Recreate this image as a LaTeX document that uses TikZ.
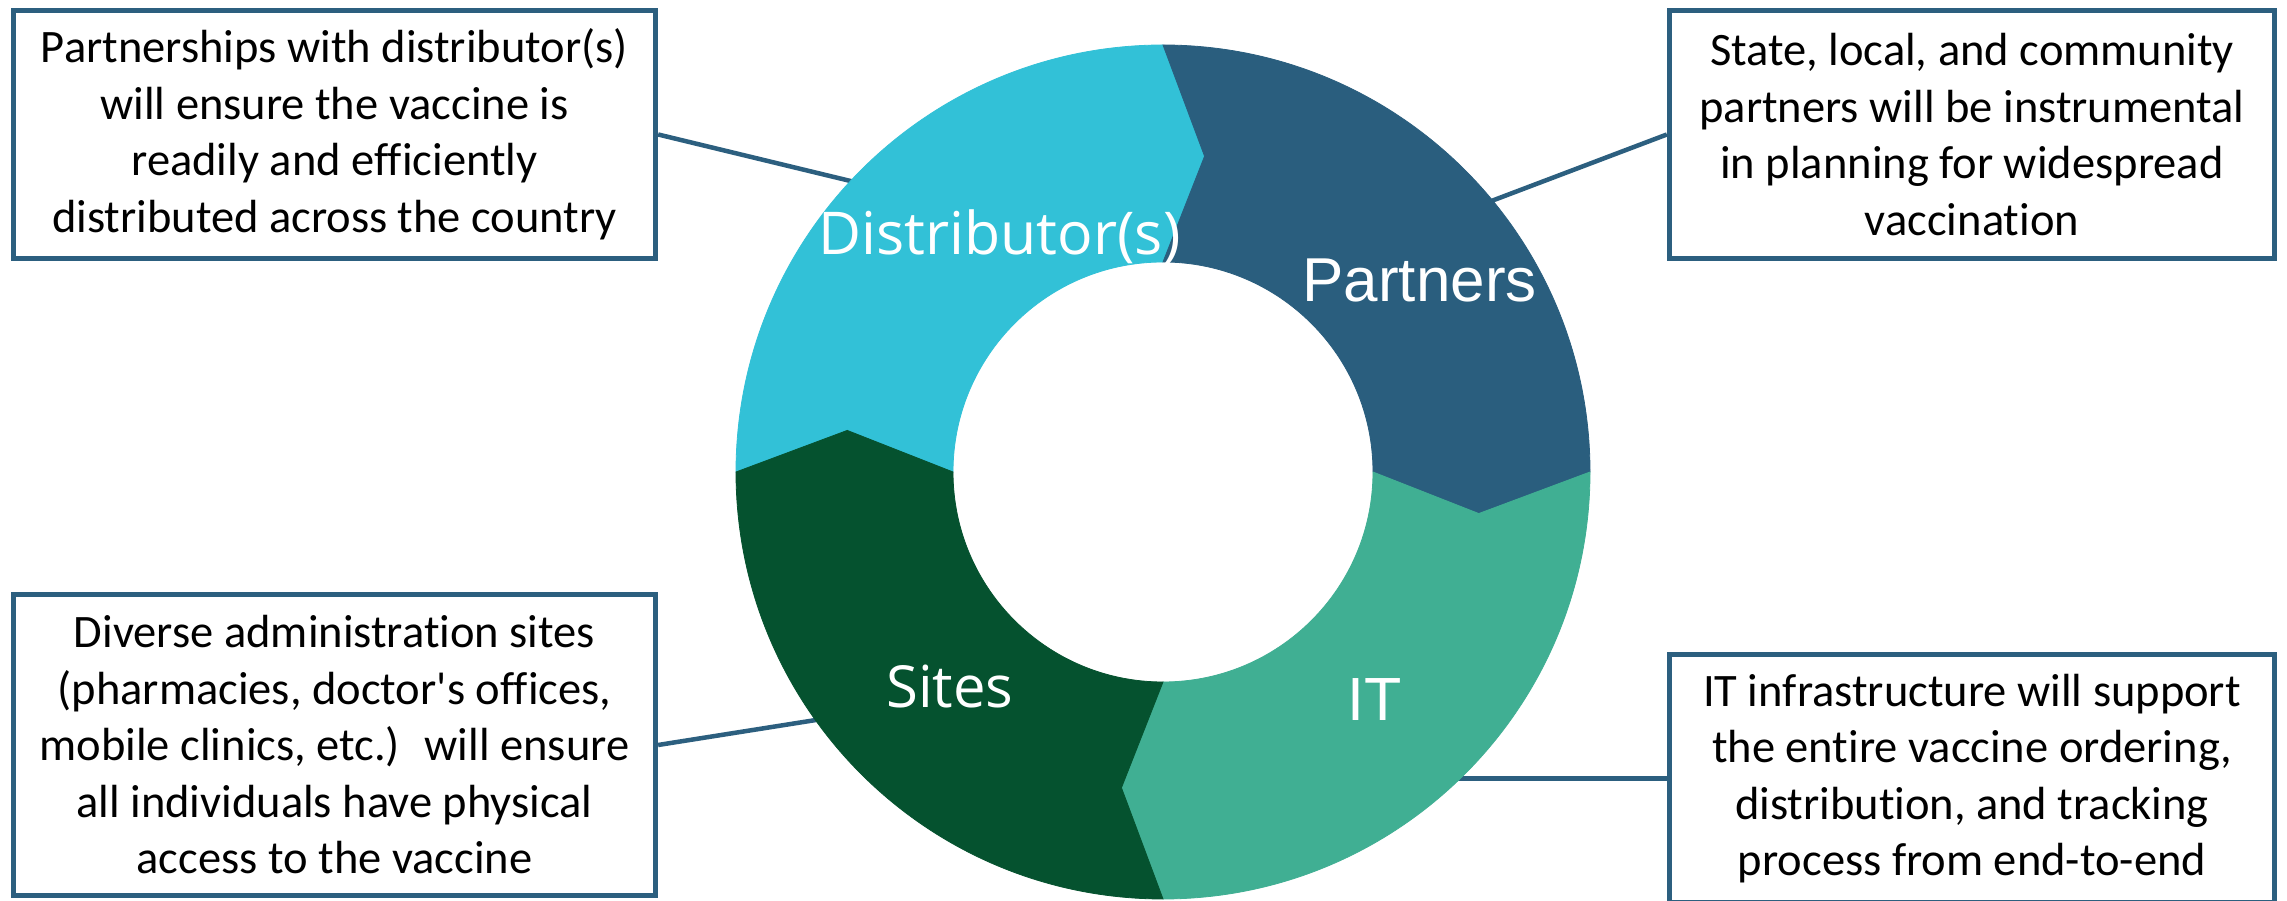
\documentclass[tikz,border=0pt]{standalone}
\usepackage{fontspec}
\setmainfont{Carlito}[Ligatures={TeX,NoCommon}]
\newfontfamily\segfont{Open Sans}
\newfontfamily\arialfont{Liberation Sans}
\usepackage{xcolor}
\usepackage{tikz}
\definecolor{distcyan}{RGB}{50,193,215}
\definecolor{partblue}{RGB}{42,94,126}
\definecolor{itteal}{RGB}{64,175,147}
\definecolor{sitegreen}{RGB}{5,82,47}
\definecolor{boxblue}{RGB}{44,95,127}

\begin{document}
\begin{tikzpicture}[x=1pt, y=1pt,
     infobox/.style={draw=boxblue, line width=4.8pt, fill=white, align=center, inner sep=0pt,
          font=\fontsize{46.5}{56.5}\selectfont},
     ringlabel/.style={text=white, anchor=base},
     callout/.style={draw=boxblue, line width=4.5pt}]
     \useasboundingbox (0,0) rectangle (2287,901);
     \clip (0,0) rectangle (2287,901);
     \fill[white] (0,0) rectangle (2287,901);
     \node[infobox, minimum width=642.5pt, minimum height=248.5pt] (distbox) at (334.5,766.5)
          {Partnerships with distributor(s)\\will ensure the vaccine is\\readily and efficiently\\distributed across the country};
     \node[infobox, minimum width=605.5pt, minimum height=248.5pt] (partbox) at (1972,766.5)
          {State, local, and community\\partners will be instrumental\\in planning for widespread\\vaccination};
     \node[infobox, minimum width=642.5pt, minimum height=301.5pt] (sitebox) at (334.5,156)
          {Diverse administration sites\\(pharmacies, doctor\textquotesingle s offices,\\mobile clinics, etc.)~ will ensure\\all individuals have physical\\access to the vaccine};
     \node[infobox, minimum width=605.5pt, minimum height=248.5pt] (itbox) at (1972,122.5)
          {IT infrastructure will support\\the entire vaccine ordering,\\distribution, and tracking\\process from end-to-end};
     \begin{scope}[shift={(1163,429)}]
          \coordinate (distpt) at (136.5:420);
          \coordinate (partpt) at (39.8:420);
          \coordinate (sitept) at (216:420);
          \coordinate (itpt) at (-45.9:420);
     \end{scope}
     \draw[callout] (distbox.east) -- (distpt);
     \draw[callout] (partbox.west) -- (partpt);
     \draw[callout] (sitebox.east) -- (sitept);
     \draw[callout] (itbox.west) -- (itbox.west -| itpt);
     \begin{scope}[shift={(1163,429)}]
          \filldraw[distcyan, line width=0.8pt] (180:427) arc[start angle=180, end angle=90, radius=427pt]
               -- (82.5:318.5) -- (90:210) arc[start angle=90, end angle=180, radius=210pt] -- (172.5:318.5) -- cycle;
          \filldraw[partblue, line width=0.8pt] (90:427) arc[start angle=90, end angle=0, radius=427pt]
               -- (-7.5:318.5) -- (0:210) arc[start angle=0, end angle=90, radius=210pt] -- (82.5:318.5) -- cycle;
          \filldraw[itteal, line width=0.8pt] (0:427) arc[start angle=0, end angle=-90, radius=427pt]
               -- (-97.5:318.5) -- (-90:210) arc[start angle=-90, end angle=0, radius=210pt] -- (-7.5:318.5) -- cycle;
          \filldraw[sitegreen, line width=0.8pt] (-90:427) arc[start angle=-90, end angle=-180, radius=427pt]
               -- (-187.5:318.5) -- (-180:210) arc[start angle=-180, end angle=-90, radius=210pt] -- (-97.5:318.5) -- cycle;
     \end{scope}
     \node[ringlabel, font=\segfont\fontsize{59}{70}\selectfont] (distlabel) at (999.5,646) {Distributor(s)};
     \node[ringlabel, font=\arialfont\fontsize{62}{74}\selectfont] (partlabel) at (1419.5,599) {Partners};
     \node[ringlabel, font=\arialfont\fontsize{61}{73}\selectfont] (itlabel) at (1375,180) {IT};
     \node[ringlabel, font=\segfont\fontsize{58}{70}\selectfont] (sitelabel) at (950,193) {Sites};
\end{tikzpicture}
\end{document}
